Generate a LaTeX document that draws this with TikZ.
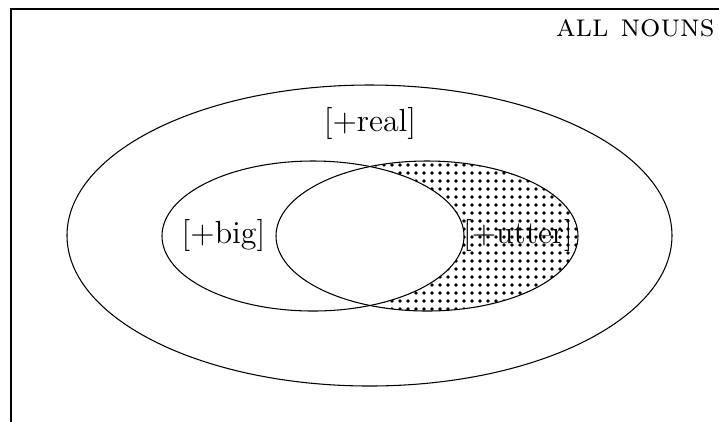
\documentclass[tikz,border=0pt]{standalone}
\usetikzlibrary{patterns}
\pgfdeclarepatternformonly{bigdots}{\pgfqpoint{-1pt}{-1pt}}{\pgfqpoint{1pt}{1pt}}{\pgfqpoint{3pt}{3pt}}%
  {\pgfpathcircle{\pgfqpoint{0pt}{0pt}}{.7pt}\pgfusepath{fill}}
\begin{document}
\begin{tikzpicture}[x=0.375pt,y=-0.375pt,
  setline/.style={black,line width=0.4pt},
  setlabel/.style={font=\large,inner sep=0pt}]
\useasboundingbox (0,0) rectangle (719,421);
% frame of the universe (runs off the page)
\begin{scope}
\clip (0,0) rectangle (719,421);
\draw[setline,line width=0.5pt] (11,9) rectangle (760,460);
\end{scope}
% shaded part: utter but not big
\begin{scope}
\clip (427,236) ellipse [x radius=151,y radius=75];
\fill[pattern=bigdots,even odd rule] (313,236) ellipse [x radius=151,y radius=75]
  (0,0) rectangle (719,421);
\end{scope}
% the sets
\draw[setline] (369.5,235.5) ellipse [x radius=302.5,y radius=150.5];
\foreach \cx in {313,427} \draw[setline] (\cx,236) ellipse [x radius=151,y radius=75];
% labels
\node[anchor=base east,inner sep=0pt,font=\large] (allnouns) at (715,36) {\textsc{all nouns}};
\node[setlabel] (real) at (370,123.5) {[+real]};
\node[setlabel] (big) at (223.5,235) {[+big]};
\node[setlabel] (utter) at (518,235.5) {[+utter]};
\end{tikzpicture}
\end{document}
